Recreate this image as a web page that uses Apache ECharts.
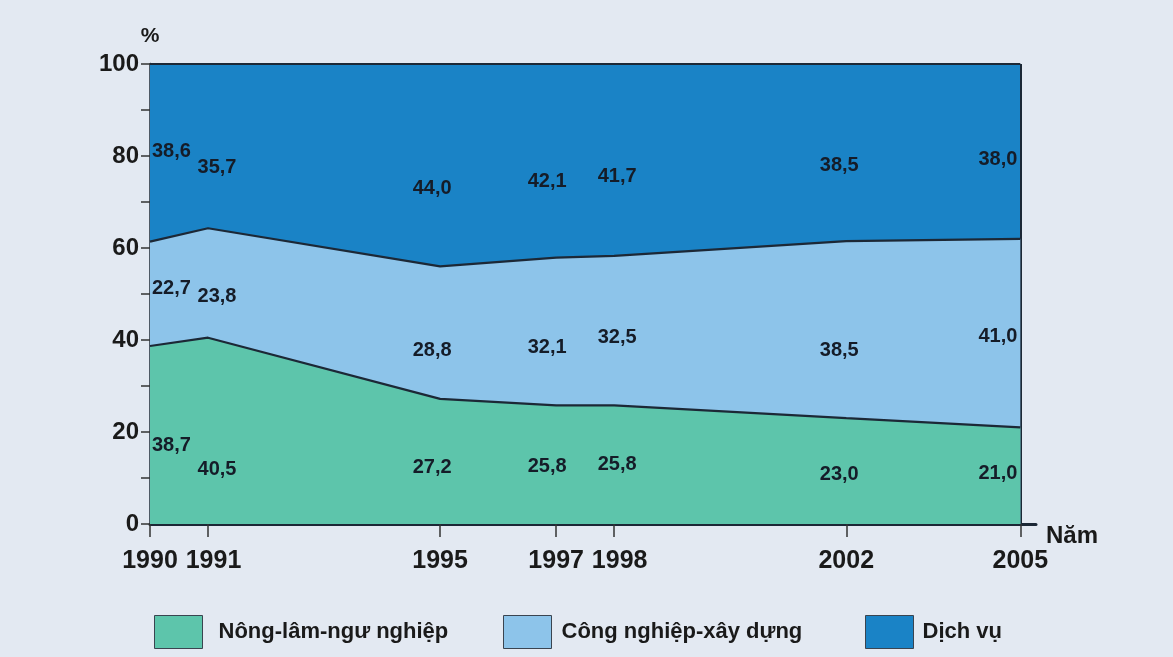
<!DOCTYPE html>
<html>
<head>
<meta charset="utf-8">
<script src="https://cdn.jsdelivr.net/npm/echarts@6/dist/echarts.min.js"></script>
<style>
html,body{margin:0;padding:0;background:#e3e9f2;}
#c{width:1173px;height:657px;}
</style>
</head>
<body>
<div id="c"></div>
<script>
// ---- DATA ----
const years = [1990, 1991, 1995, 1997, 1998, 2002, 2005];
const nongLamNgu = [38.7, 40.5, 27.2, 25.8, 25.8, 23.0, 21.0];
const congNghiep = [22.7, 23.8, 28.8, 32.1, 32.5, 38.5, 41.0];
const dichVu = [38.6, 35.7, 44.0, 42.1, 41.7, 38.5, 38.0];
const seriesNames = ['Nông-lâm-ngư nghiệp', 'Công nghiệp-xây dựng', 'Dịch vụ'];
const yTicks = [0, 20, 40, 60, 80, 100];

// ---- STYLE ----
const colors = ['#5dc5ab', '#8dc4ea', '#1a83c6'];
const edge = '#1c2836';
const font = 'Liberation Sans, Arial, sans-serif';
const textColor = '#1a1a1a';
// per-column label nudges (pixels), per series
const colDx = [2, 9, -8, -9, 3, -7, -3];
const labelDy = [
  [10, 39, 6, 2, 0, 3, -2],
  [-5, 14, 18, 16, 7, 21, 3],
  [-1, 21, 23, 21, 17, 13, 8]
];

const all = [nongLamNgu, congNghiep, dichVu];
function fmt(v){ return v.toFixed(1).replace('.', ','); }
// cumulative tops of each band
const cum = all.map((arr, si) => years.map((y, i) => {
  let s = 0;
  for (let k = 0; k <= si; k++) s += all[k][i];
  return Math.round(s * 10) / 10;
}));

const series = [];
all.forEach((arr, si) => {
  const s = {
    name: seriesNames[si],
    type: 'line',
    symbol: 'none',
    silent: true,
    data: years.map((y, i) => [y, cum[si][i]]),
    lineStyle: { color: edge, width: 2.2 },
    itemStyle: { color: colors[si] },
    areaStyle: { color: colors[si], opacity: 1, origin: 'start' },
    z: 6 - si
  };
  if (si === 2) {
    s.markLine = {
      symbol: 'none', silent: true, label: { show: false },
      lineStyle: { color: edge, width: 2, type: 'solid' },
      data: [[{ coord: [2005, 0] }, { coord: [2005, 100] }]]
    };
  }
  series.push(s);
});

// label series (placed in the middle of each band)
all.forEach((arr, si) => {
  series.push({
    type: 'scatter',
    symbolSize: 1,
    silent: true,
    z: 10,
    itemStyle: { opacity: 0 },
    data: years.map((y, i) => {
      const base = si === 0 ? 0 : cum[si - 1][i];
      const last = i === years.length - 1, first = i === 0;
      return {
        value: [y, base + arr[i] / 2],
        label: {
          show: true,
          formatter: fmt(arr[i]),
          position: 'inside',
          align: first ? 'left' : (last ? 'right' : 'center'),
          offset: [colDx[i], labelDy[si][i]],
          color: '#151c28',
          opacity: 1,
          fontSize: 20,
          fontWeight: 'bold',
          fontFamily: font
        }
      };
    })
  });
});

const legendBase = {
  orient: 'horizontal', top: 615, itemWidth: 48, itemHeight: 33, itemGap: 10, padding: 0,
  selectedMode: false, icon: 'rect'
};
const legendLefts = [154, 503, 865];
const legendTextPad = [11, 5, 4];

const chart = echarts.init(document.getElementById('c'));
chart.setOption({
  backgroundColor: '#e3e9f2',
  animation: false,
  grid: { left: 150, top: 64, width: 886, height: 460, containLabel: false },
  xAxis: {
    type: 'value', min: 1990, max: 2005.27,
    name: 'Năm', nameLocation: 'end', nameGap: 10,
    nameTextStyle: { fontSize: 24, color: textColor, fontFamily: font, fontWeight: 'bold', verticalAlign: 'top', padding: [0, 0, 0, 0] },
    axisLine: { show: true, lineStyle: { color: edge, width: 3 } },
    axisTick: { show: true, customValues: years, length: 13, inside: false, lineStyle: { color: '#333', width: 1.5 } },
    axisLabel: {
      customValues: years, fontSize: 25, color: textColor, fontFamily: font, fontWeight: 'bold', margin: 25,
      formatter: v => (v === 1991 || v === 1998 ? '{s|' + v + '}' : String(v)),
      rich: { s: { fontSize: 25, color: textColor, fontFamily: font, fontWeight: 'bold', padding: [0, 0, 0, 11] } }
    },
    splitLine: { show: false }
  },
  yAxis: {
    type: 'value', min: 0, max: 100, interval: 20,
    name: '%', nameLocation: 'end', nameGap: 17,
    nameTextStyle: { fontSize: 21, color: textColor, fontFamily: font, align: 'center', fontWeight: 'bold' },
    axisLine: { show: true, lineStyle: { color: edge, width: 2.5 } },
    axisTick: { show: true, length: 9, lineStyle: { color: '#333', width: 1.5 } },
    minorTick: { show: true, splitNumber: 2, length: 9, lineStyle: { color: '#333', width: 1.5 } },
    axisLabel: { fontSize: 24, color: textColor, fontFamily: font, fontWeight: 'bold', margin: 11,
      customValues: yTicks },
    splitLine: { show: false }
  },
  legend: seriesNames.map((n, i) => Object.assign({}, legendBase, {
    left: legendLefts[i],
    textStyle: { fontSize: 22, color: textColor, fontFamily: font, fontWeight: 'bold', padding: [3, 0, 0, legendTextPad[i]] },
    data: [{ name: n, itemStyle: { color: colors[i], borderColor: '#3a4450', borderWidth: 1 } }]
  })),
  series: series
});
</script>
</body>
</html>
